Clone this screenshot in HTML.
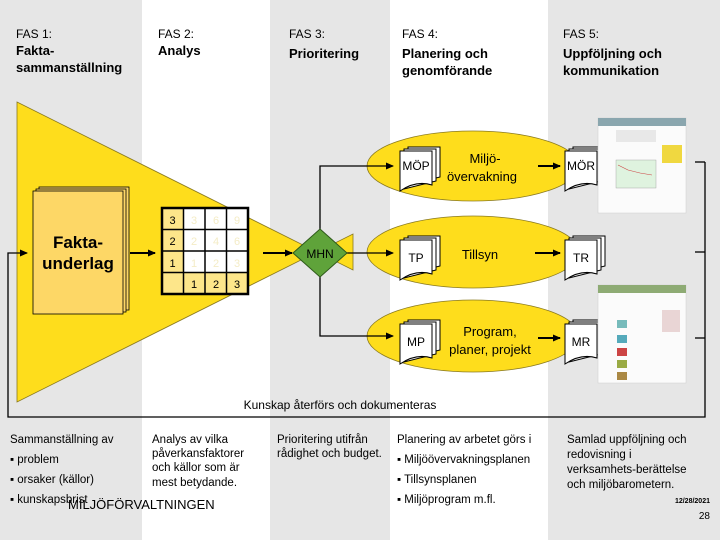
<!DOCTYPE html>
<html><head><meta charset="utf-8"><style>
html,body{margin:0;padding:0;width:720px;height:540px;overflow:hidden;background:#fff}
svg{display:block}
text{font-family:"Liberation Sans",sans-serif}
</style></head><body>
<svg width="720" height="540" viewBox="0 0 720 540" xmlns="http://www.w3.org/2000/svg">
<defs>
<marker id="ah" markerWidth="8" markerHeight="8" refX="7" refY="4" orient="auto" markerUnits="userSpaceOnUse"><path d="M0,0.5 L8,4 L0,7.5z" fill="#000"/></marker>
<g id="doc">
<path d="M8,-4 h32 v30 q-16,4 -32,8z" fill="#fff" stroke="#000" stroke-width="1"/>
<path d="M4,-2 h32 v32 q-16,4 -32,8z" fill="#fff" stroke="#000" stroke-width="1"/>
<path d="M0,0 h32 v34 q-16,-5 -32,6z" fill="#fff" stroke="#000" stroke-width="1"/>
</g>
</defs>
<rect x="0" y="0" width="142" height="540" fill="#e6e6e6"/>
<rect x="270" y="0" width="120" height="540" fill="#e6e6e6"/>
<rect x="548" y="0" width="172" height="540" fill="#e6e6e6"/>
<g font-size="12" fill="#000">
<text x="16" y="38">FAS 1:</text>
<text x="158" y="38">FAS 2:</text>
<text x="289" y="38">FAS 3:</text>
<text x="402" y="38">FAS 4:</text>
<text x="563" y="38">FAS 5:</text>
</g>
<g font-size="13" font-weight="bold">
<text x="16" y="55">Fakta-</text>
<text x="16" y="72">sammanställning</text>
<text x="158" y="55">Analys</text>
<text x="289" y="58">Prioritering</text>
<text x="402" y="58">Planering och</text>
<text x="402" y="75">genomförande</text>
<text x="563" y="58">Uppföljning och</text>
<text x="563" y="75">kommunikation</text>
</g>
<polygon points="17,102 353,270 353,234 17,402" fill="#fedd1c" stroke="#8a7a20" stroke-width="0.8"/>
<ellipse cx="473" cy="166" rx="106" ry="35" fill="#fedd1c" stroke="#8a7a20" stroke-width="0.8"/>
<ellipse cx="473" cy="252" rx="106" ry="36" fill="#fedd1c" stroke="#8a7a20" stroke-width="0.8"/>
<ellipse cx="473" cy="336" rx="106" ry="36" fill="#fedd1c" stroke="#8a7a20" stroke-width="0.8"/>
<polyline points="705,162 705,417 8,417 8,253 27,253" fill="none" stroke="#000" stroke-width="1.3" marker-end="url(#ah)"/>
<line x1="695" y1="162" x2="705" y2="162" stroke="#000" stroke-width="1.3"/>
<line x1="695" y1="252" x2="705" y2="252" stroke="#000" stroke-width="1.3"/>
<line x1="695" y1="338" x2="705" y2="338" stroke="#000" stroke-width="1.3"/>
<rect x="39" y="187" width="90" height="123" fill="#fdd766" stroke="#000" stroke-width="0.8"/>
<rect x="36" y="189" width="90" height="123" fill="#fdd766" stroke="#000" stroke-width="0.8"/>
<rect x="33" y="191" width="90" height="123" fill="#fdd766" stroke="#000" stroke-width="0.8"/>
<text x="78" y="248" font-size="17" font-weight="bold" text-anchor="middle">Fakta-</text>
<text x="78" y="269" font-size="17" font-weight="bold" text-anchor="middle">underlag</text>
<line x1="130" y1="253" x2="155" y2="253" stroke="#000" stroke-width="2" marker-end="url(#ah)"/>
<rect x="162" y="208" width="86" height="86" fill="#fff"/>
<rect x="162" y="208" width="21.5" height="86" fill="#fde68a"/>
<rect x="162" y="272.5" width="86" height="21.5" fill="#fde68a"/>
<g stroke="#000" stroke-width="1.5" fill="none">
<rect x="162" y="208" width="86" height="86" stroke-width="2.5"/>
<line x1="183.5" y1="208" x2="183.5" y2="294"/><line x1="205" y1="208" x2="205" y2="294"/><line x1="226.5" y1="208" x2="226.5" y2="294"/>
<line x1="162" y1="229.5" x2="248" y2="229.5"/><line x1="162" y1="251" x2="248" y2="251"/><line x1="162" y1="272.5" x2="248" y2="272.5"/>
</g>
<g font-size="11" text-anchor="middle">
<text x="172.5" y="224">3</text><text x="172.5" y="245">2</text><text x="172.5" y="267">1</text>
<text x="194" y="288">1</text><text x="216" y="288">2</text><text x="237" y="288">3</text>
<g fill="#f4ecc6"><text x="194" y="224">3</text><text x="216" y="224">6</text><text x="237" y="224">9</text>
<text x="194" y="245">2</text><text x="216" y="245">4</text><text x="237" y="245">6</text>
<text x="194" y="267">1</text><text x="216" y="267">2</text><text x="237" y="267">3</text></g>
</g>
<line x1="263" y1="253" x2="292" y2="253" stroke="#000" stroke-width="2" marker-end="url(#ah)"/>
<polyline points="320,253 320,166 393,166" fill="none" stroke="#000" stroke-width="1.3" marker-end="url(#ah)"/>
<polyline points="320,253 320,336 393,336" fill="none" stroke="#000" stroke-width="1.3" marker-end="url(#ah)"/>
<line x1="345" y1="253" x2="393" y2="253" stroke="#000" stroke-width="1.3" marker-end="url(#ah)"/>
<polygon points="320,229 347,253 320,277 293,253" fill="#5fa33a" stroke="#2e5a1a" stroke-width="1"/>
<text x="320" y="258" font-size="12" text-anchor="middle">MHN</text>
<use href="#doc" x="400" y="151"/>
<use href="#doc" x="400" y="240"/>
<use href="#doc" x="400" y="324"/>
<use href="#doc" x="565" y="151"/>
<use href="#doc" x="565" y="240"/>
<use href="#doc" x="565" y="324"/>
<g font-size="12" text-anchor="middle">
<text x="416" y="170">MÖP</text><text x="416" y="262">TP</text><text x="416" y="346">MP</text>
<text x="581" y="170">MÖR</text><text x="581" y="262">TR</text><text x="581" y="346">MR</text>
</g>
<g font-size="13" text-anchor="middle">
<text x="485" y="163">Miljö-</text><text x="482" y="181">övervakning</text>
<text x="480" y="259">Tillsyn</text>
<text x="490" y="336">Program,</text><text x="490" y="354">planer, projekt</text>
</g>
<line x1="538" y1="166" x2="560" y2="166" stroke="#000" stroke-width="2" marker-end="url(#ah)"/>
<line x1="535" y1="253" x2="560" y2="253" stroke="#000" stroke-width="2" marker-end="url(#ah)"/>
<line x1="538" y1="338" x2="560" y2="338" stroke="#000" stroke-width="2" marker-end="url(#ah)"/>
<g>
<rect x="598" y="118" width="88" height="95" fill="#fbfbfb" stroke="#ccc" stroke-width="0.5"/>
<rect x="598" y="118" width="88" height="8" fill="#8aa6ae"/>
<rect x="616" y="160" width="40" height="28" fill="#dff3df" stroke="#999" stroke-width="0.4"/>
<polyline points="618,165 628,170 640,173 652,175" fill="none" stroke="#c44" stroke-width="0.6"/>
<rect x="662" y="145" width="20" height="18" fill="#f0d840"/>
<rect x="616" y="130" width="40" height="12" fill="#e8e8e8"/>
<rect x="598" y="285" width="88" height="98" fill="#fbfbfb" stroke="#ccc" stroke-width="0.5"/>
<rect x="598" y="285" width="88" height="8" fill="#8eab74"/>
<rect x="617" y="320" width="10" height="8" fill="#7bb"/>
<rect x="617" y="335" width="10" height="8" fill="#5ab"/>
<rect x="617" y="348" width="10" height="8" fill="#c44"/>
<rect x="617" y="360" width="10" height="8" fill="#9a4"/>
<rect x="617" y="372" width="10" height="8" fill="#a84"/>
<rect x="662" y="310" width="18" height="22" fill="#e9d5d5"/>
</g>
<text x="340" y="409" font-size="12" text-anchor="middle">Kunskap återförs och dokumenteras</text>
<g font-size="11.5">
<text x="10" y="443">Sammanställning av</text>
<text x="10" y="463">▪ problem</text>
<text x="10" y="483">▪ orsaker (källor)</text>
<text x="10" y="503">▪ kunskapsbrist</text>
<text x="152" y="443">Analys av vilka</text>
<text x="152" y="457">påverkansfaktorer</text>
<text x="152" y="471">och källor som är</text>
<text x="152" y="486">mest betydande.</text>
<text x="277" y="443">Prioritering utifrån</text>
<text x="277" y="457">rådighet och budget.</text>
<text x="397" y="443">Planering av arbetet görs i</text>
<text x="397" y="463">▪ Miljöövervakningsplanen</text>
<text x="397" y="483">▪ Tillsynsplanen</text>
<text x="397" y="503">▪ Miljöprogram m.fl.</text>
<text x="567" y="443">Samlad uppföljning och</text>
<text x="567" y="458">redovisning i</text>
<text x="567" y="473">verksamhets-berättelse</text>
<text x="567" y="488">och miljöbarometern.</text>
</g>
<text x="68" y="509" font-size="13">MILJÖFÖRVALTNINGEN</text>
<text x="710" y="503" font-size="7" font-weight="bold" text-anchor="end">12/28/2021</text>
<text x="710" y="519" font-size="10" text-anchor="end">28</text>
</svg>
</body></html>
